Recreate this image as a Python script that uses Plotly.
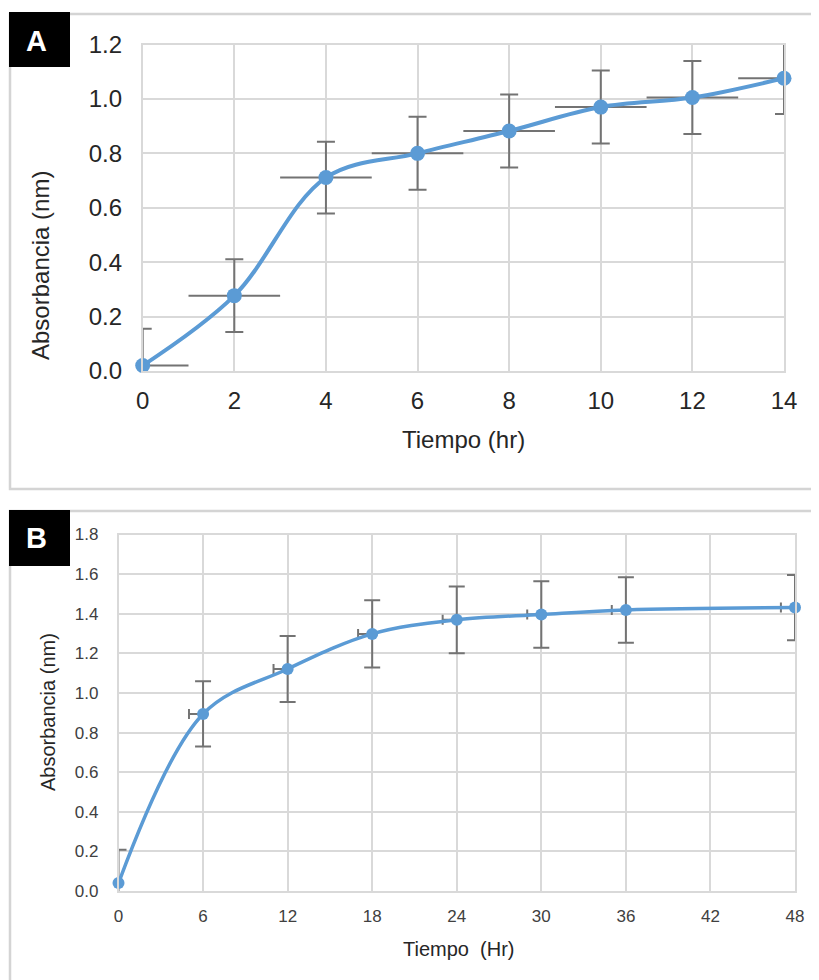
import plotly.graph_objects as go

W, H = 819, 980
OFF = 8  # page body margin of the viewer


def fx(p):
    return (p - OFF) / W


def fy(p):
    return 1 - (p - OFF) / H


# ---------------- Data ----------------
time_a = [0, 2, 4, 6, 8, 10, 12, 14]
abs_a = [0.02, 0.277, 0.711, 0.800, 0.882, 0.970, 1.005, 1.076]
err_y_a = [0.135, 0.134, 0.132, 0.134, 0.134, 0.134, 0.134, 0.131]
err_x_a = [1, 1, 1, 1, 1, 1, 1, 1]
ticks_a_x = [0, 2, 4, 6, 8, 10, 12, 14]
ticks_a_y = [0.0, 0.2, 0.4, 0.6, 0.8, 1.0, 1.2]

time_b = [0, 6, 12, 18, 24, 30, 36, 48]
abs_b = [0.04, 0.894, 1.121, 1.298, 1.369, 1.396, 1.419, 1.431]
err_y_b = [0.168, 0.165, 0.167, 0.170, 0.168, 0.168, 0.165, 0.165]
err_x_b = [1, 1, 1, 1, 1, 1, 1, 1]
ticks_b_x = [0, 6, 12, 18, 24, 30, 36, 42, 48]
ticks_b_y = [0.0, 0.2, 0.4, 0.6, 0.8, 1.0, 1.2, 1.4, 1.6, 1.8]

BLUE = "#5B9BD5"
ERR = "#737373"
GRID = "#d9d9d9"
FONT = "Liberation Sans, Arial, sans-serif"

fig = go.Figure()

# Panel A: error bars (clipped to plot area)
fig.add_trace(go.Scatter(
    x=time_a, y=abs_a, mode="markers", marker=dict(opacity=0, size=1),
    error_y=dict(type="data", array=err_y_a, color=ERR, thickness=2, width=9),
    error_x=dict(type="data", array=err_x_a, color=ERR, thickness=2, width=0),
    cliponaxis=True, xaxis="x", yaxis="y", showlegend=False, hoverinfo="skip"))
fig.add_trace(go.Scatter(
    x=time_a, y=abs_a, mode="lines+markers",
    line=dict(color=BLUE, width=4, shape="spline", smoothing=1),
    marker=dict(color=BLUE, size=15),
    cliponaxis=False, xaxis="x", yaxis="y", showlegend=False))

# Panel B
fig.add_trace(go.Scatter(
    x=time_b, y=abs_b, mode="markers", marker=dict(opacity=0, size=1),
    error_y=dict(type="data", array=err_y_b, color=ERR, thickness=2, width=8),
    error_x=dict(type="data", symmetric=False, array=[0] * len(err_x_b),
                 arrayminus=err_x_b, color=ERR, thickness=2, width=5),
    cliponaxis=True, xaxis="x2", yaxis="y2", showlegend=False, hoverinfo="skip"))
fig.add_trace(go.Scatter(
    x=time_b, y=abs_b, mode="lines+markers",
    line=dict(color=BLUE, width=3.5, shape="spline", smoothing=1),
    marker=dict(color=BLUE, size=12),
    cliponaxis=False, xaxis="x2", yaxis="y2", showlegend=False))

axis_common = dict(showgrid=True, gridcolor=GRID, gridwidth=1.5, zeroline=False,
                   showline=True, linecolor=GRID, linewidth=1.5, mirror=True,
                   ticks="", fixedrange=True, automargin=False)

fig.update_layout(
    width=W, height=H,
    margin=dict(l=0, r=0, t=0, b=0, pad=0, autoexpand=False),
    paper_bgcolor="white", plot_bgcolor="white",
    font=dict(family=FONT, color="#333333"),
    xaxis=dict(domain=[fx(142.7), fx(784)], range=[0, 14], tickvals=ticks_a_x,
               tickfont=dict(size=24, color="#262626"), ticklabelstandoff=7,
               anchor="y", **axis_common),
    yaxis=dict(domain=[fy(371), fy(44.5)], range=[0, 1.2], tickvals=ticks_a_y,
               tickformat=".1f", tickfont=dict(size=24, color="#262626"),
               ticklabelstandoff=14, anchor="x", **axis_common),
    xaxis2=dict(domain=[fx(118.5), fx(795)], range=[0, 48], tickvals=ticks_b_x,
                tickfont=dict(size=17, color="#404040"), ticklabelstandoff=9,
                anchor="y2", **axis_common),
    yaxis2=dict(domain=[fy(891), fy(534.5)], range=[0, 1.8], tickvals=ticks_b_y,
                tickformat=".1f", tickfont=dict(size=17, color="#404040"),
                ticklabelstandoff=15, anchor="x2", **axis_common),
)

shapes = [
    # Panel frames
    dict(type="rect", xref="paper", yref="paper", x0=fx(10), x1=fx(840),
         y0=fy(489), y1=fy(14), line=dict(color="#d4d4d4", width=2.5)),
    dict(type="rect", xref="paper", yref="paper", x0=fx(10), x1=fx(840),
         y0=fy(1000), y1=fy(511), line=dict(color="#d4d4d4", width=2.5)),
    # Label boxes
    dict(type="rect", xref="paper", yref="paper", x0=fx(9), x1=fx(70),
         y0=fy(67), y1=fy(12), fillcolor="black", line=dict(width=0)),
    dict(type="rect", xref="paper", yref="paper", x0=fx(9), x1=fx(70),
         y0=fy(566), y1=fy(510), fillcolor="black", line=dict(width=0)),
]

ann_common = dict(xref="paper", yref="paper", showarrow=False,
                  xanchor="center", yanchor="middle")
annotations = [
    dict(text="<b>A</b>", x=fx(36), y=fy(41),
         font=dict(size=29, color="white", family=FONT), **ann_common),
    dict(text="<b>B</b>", x=fx(36), y=fy(538),
         font=dict(size=29, color="white", family=FONT), **ann_common),
    dict(text="Absorbancia (nm)", x=fx(40), y=fy(266), textangle=-90,
         font=dict(size=24, color="#262626"), **ann_common),
    dict(text="Tiempo (hr)", x=fx(463), y=fy(440),
         font=dict(size=24, color="#262626"), **ann_common),
    dict(text="Absorbancia (nm)", x=fx(48), y=fy(712), textangle=-90,
         font=dict(size=20, color="#262626"), **ann_common),
    dict(text="Tiempo  (Hr)", x=fx(458), y=fy(949),
         font=dict(size=20, color="#262626"), **ann_common),
]

fig.update_layout(shapes=shapes, annotations=annotations)

fig.write_html("out.html")
